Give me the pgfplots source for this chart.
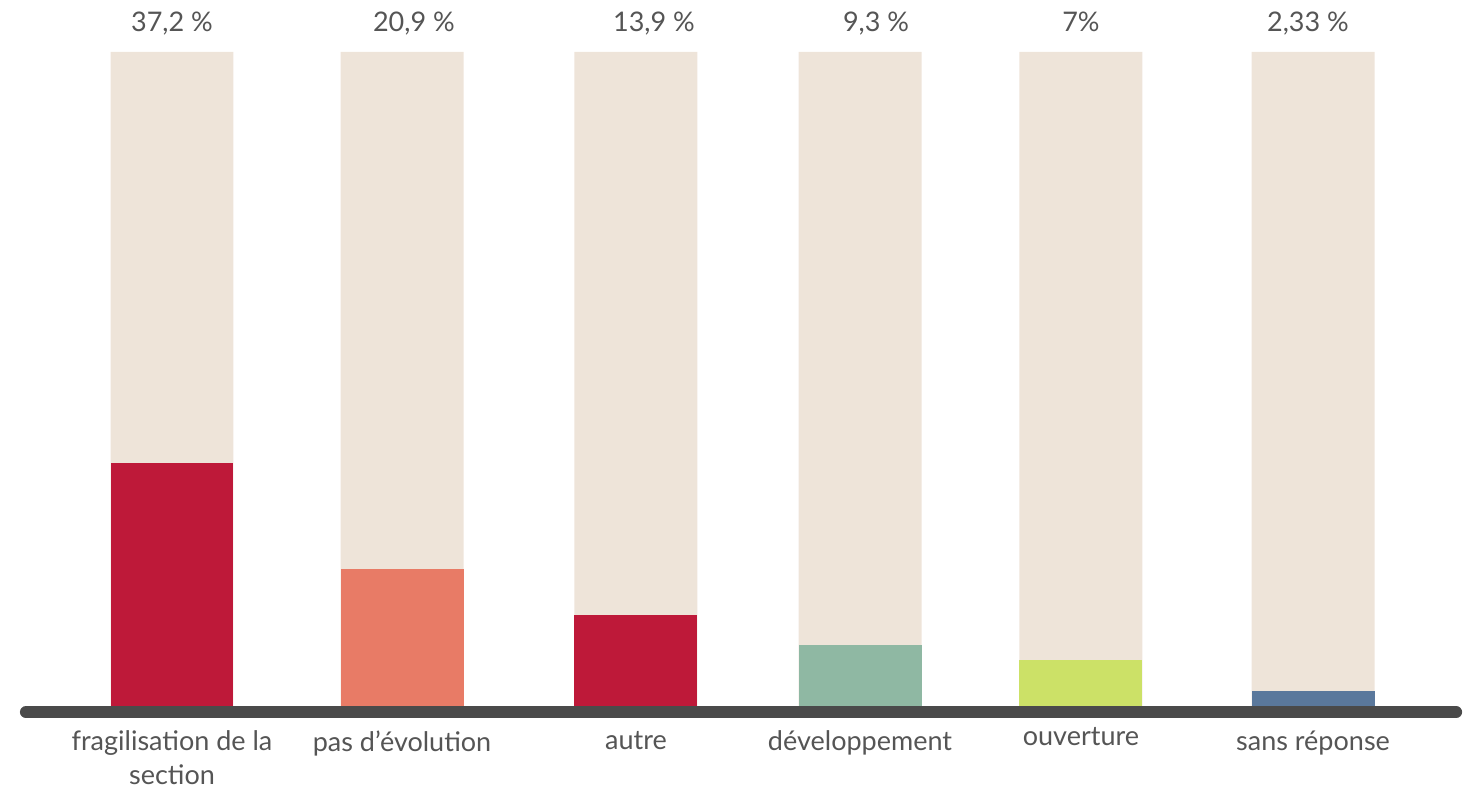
\documentclass[border=0pt]{standalone}
\usepackage{fontspec}
\setmainfont{Lato}
\usepackage{pgfplots}
\pgfplotsset{compat=1.18}
\definecolor{beige}{HTML}{EEE4D9}
\definecolor{cA}{HTML}{BE1939}
\definecolor{cB}{HTML}{E87B66}
\definecolor{cD}{HTML}{8FB8A3}
\definecolor{cE}{HTML}{CCE167}
\definecolor{cF}{HTML}{5A789C}
\definecolor{lineg}{HTML}{4A4A4A}
\definecolor{txt}{HTML}{555555}
\begin{document}
\begin{tikzpicture}
\begin{axis}[
  scale only axis, width=1473pt, height=791pt,
  xmin=-0.7537, xmax=5.701, ymin=-13.0, ymax=107.95,
  hide axis, clip=false,
  ybar, bar width=123pt, bar shift=0pt,
]
\path (rel axis cs:0,0) rectangle (rel axis cs:1,1);
% background bars
\addplot[fill=beige, draw=none] coordinates {(0,100) (1.008,100) (2.033,100) (3.015,100) (3.983,100) (5,100)};
% values
\addplot[fill=cA, draw=none] coordinates {(0,37.2)};
\addplot[fill=cB, draw=none] coordinates {(1.008,20.9)};
\addplot[fill=cA, draw=none] coordinates {(2.033,13.9)};
\addplot[fill=cD, draw=none] coordinates {(3.015,9.3)};
\addplot[fill=cE, draw=none] coordinates {(3.983,7)};
\addplot[fill=cF, draw=none] coordinates {(5,2.33)};
% baseline
\addplot[sharp plot, draw=lineg, line width=12pt, line cap=round, mark=none] coordinates {(-0.640,-0.95) (5.627,-0.95)};
% value labels
\addplot[only marks, mark=none, draw=none,
  nodes near coords, point meta=explicit symbolic,
  every node near coord/.style={anchor=base, inner sep=0pt, text=txt, font=\fontsize{27}{32}\selectfont}]
  coordinates {(0,103.1) [37,2 \%] (1.060,103.1) [20,9 \%] (2.112,103.1) [13,9 \%] (3.085,103.1) [9,3 \%] (3.983,103.1) [7\%] (4.978,103.1) [2,33 \%]};
% category labels
\addplot[only marks, mark=none, draw=none,
  nodes near coords, point meta=explicit symbolic,
  every node near coord/.style={anchor=north, inner sep=0pt, text=txt, align=center, font=\fontsize{27}{34}\selectfont}]
  coordinates {(0,-3.8) [fragilisation de la\\section] (1.008,-3.8) [pas d'évolution] (2.033,-3.8) [autre] (3.015,-3.8) [développement] (3.983,-3.3) [ouverture] (5,-3.8) [sans réponse]};
\end{axis}
\end{tikzpicture}
\end{document}
